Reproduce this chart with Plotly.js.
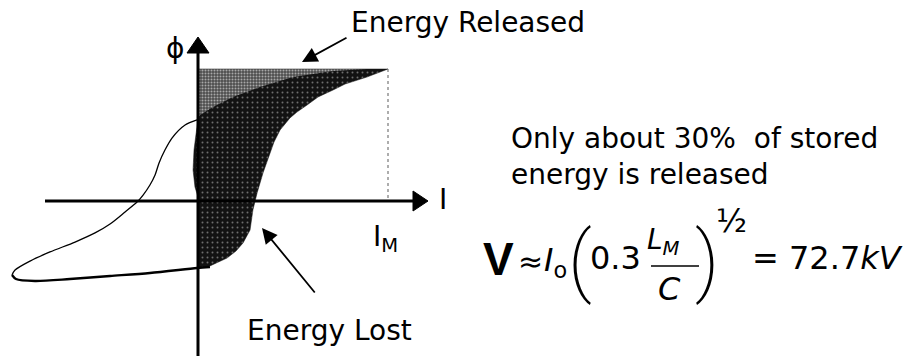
<!DOCTYPE html>
<html>
<head>
<meta charset="utf-8">
<script src="https://cdn.plot.ly/plotly-3.0.1.min.js"></script>
<style>
  html, body { margin: 0; padding: 0; background: #fff; }
  #chart { width: 909px; height: 356px; }
</style>
</head>
<body>
<div id="chart"></div>
<script>
// Flux-current (phi vs I) loop, in units where I_M = 1 and phi_max = 1.

// Outer branch of the loop: from the phi axis down to the far-left turning point
const loopUpperI   = [-0.005, -0.068, -0.137, -0.174, -0.205, -0.226, -0.253, -0.289, -0.321, -0.384, -0.463, -0.542, -0.647, -0.779, -0.884, -0.963, -0.979];
const loopUpperPhi = [ 0.614,  0.576,  0.477,  0.386,  0.288,  0.197,  0.121,  0.045, -0.008, -0.083, -0.174, -0.242, -0.311, -0.386, -0.455, -0.523, -0.561];

// Return branch: from the turning point back to the phi axis
const loopLowerI   = [-0.979, -0.958, -0.858, -0.674, -0.463, -0.253, -0.005, 0.063];
const loopLowerPhi = [-0.561, -0.591, -0.606, -0.591, -0.568, -0.545, -0.508, -0.500];

// Region lost in the core (dark)
const lostI   = [0, 1.0, 0.889, 0.774, 0.711, 0.632, 0.574, 0.521, 0.484, 0.432, 0.400, 0.379, 0.342, 0.311, 0.289, 0.274, 0.237, 0.200, 0.153, 0.063, 0, 0, -0.016, -0.026, -0.021, -0.011, 0, 0];
const lostPhi = [1.0, 1.0, 0.939, 0.886, 0.841, 0.788, 0.727, 0.674, 0.629, 0.538, 0.447, 0.364, 0.212, 0.061, -0.068, -0.220, -0.318, -0.379, -0.432, -0.492, -0.508, 0.030, 0.106, 0.235, 0.386, 0.500, 0.614, 1.0];

// Region released (lighter)
const releasedI   = [0, 0.889, 0.711, 0.500, 0.326, 0.184, 0.079, 0.011, 0, 0];
const releasedPhi = [1.0, 1.0, 0.985, 0.939, 0.864, 0.788, 0.712, 0.652, 0.629, 1.0];

// Peak operating point
const peakI = [1.0];
const peakPhi = [1.0];

// Pixel-to-axis helpers for placing the decorations
const W = 909, H = 356, OX = 198, OY = 201, SX = 190, SY = 132;
const ix = px => (px - OX) / SX;
const iy = py => (OY - py) / SY;
const X = px => px / W;
const Y = py => 1 - py / H;

const FONT = 'DejaVu Sans, Liberation Sans, Arial, sans-serif';

const traces = [
  {
    x: lostI, y: lostPhi, mode: 'lines', fill: 'toself',
    fillcolor: '#1c1c1c',
    fillpattern: { shape: '.', bgcolor: '#121212', fgcolor: '#6e6e6e', size: 5, solidity: 0.12 },
    line: { color: '#111', width: 0.5 }, hoverinfo: 'skip'
  },
  {
    x: releasedI, y: releasedPhi, mode: 'lines', fill: 'toself',
    fillcolor: '#7a7a7a',
    fillpattern: { shape: '.', bgcolor: '#4e4e4e', fgcolor: '#a8a8a8', size: 3, solidity: 0.35 },
    line: { color: '#555', width: 0 }, hoverinfo: 'skip'
  },
  {
    x: loopUpperI, y: loopUpperPhi, mode: 'lines',
    line: { color: '#000', width: 1.3, shape: 'spline', smoothing: 0.8 }, hoverinfo: 'skip'
  },
  {
    x: loopLowerI, y: loopLowerPhi, mode: 'lines',
    line: { color: '#000', width: 2.4, shape: 'spline', smoothing: 0.8 }, hoverinfo: 'skip'
  }
];

const shapes = [
  // dotted drop line from the peak to the I axis
  { type: 'line', x0: peakI[0], x1: peakI[0], y0: peakPhi[0], y1: 0,
    line: { color: '#777', width: 1.2, dash: 'dot' } },
  // I axis
  { type: 'line', x0: ix(45), x1: ix(414), y0: 0, y1: 0, line: { color: '#000', width: 3 } },
  { type: 'path', path: `M${ix(413)},${iy(191)} L${ix(428)},0 L${ix(413)},${iy(211)} Z`,
    fillcolor: '#000', line: { color: '#000', width: 1 } },
  // phi axis
  { type: 'line', x0: 0, x1: 0, y0: iy(360), y1: iy(52), line: { color: '#000', width: 3 } },
  { type: 'path', path: `M${ix(187)},${iy(53)} L0,${iy(37)} L${ix(209)},${iy(53)} Z`,
    fillcolor: '#000', line: { color: '#000', width: 1 } },
  // fraction bar
  { type: 'line', xref: 'paper', yref: 'paper', x0: X(651), x1: X(699), y0: Y(266), y1: Y(266),
    line: { color: '#000', width: 1.5 } }
];

const ann = (text, px, py, size, extra) => Object.assign({
  text, x: X(px), y: Y(py), xref: 'paper', yref: 'paper',
  xanchor: 'left', yanchor: 'middle', showarrow: false,
  font: { family: FONT, size, color: '#000' }
}, extra || {});

const THIN = 'DejaVu Sans ExtraLight, Roboto, Lato, ' + FONT;

const annotations = [
  // pointer arrows
  { x: ix(302), y: iy(62), ax: ix(348), ay: iy(37), xref: 'x', yref: 'y', axref: 'x', ayref: 'y',
    text: '', showarrow: true, arrowhead: 2, arrowsize: 1.7, arrowwidth: 1.8, arrowcolor: '#000', standoff: 0 },
  { x: ix(262), y: iy(228), ax: ix(316), ay: iy(294), xref: 'x', yref: 'y', axref: 'x', ayref: 'y',
    text: '', showarrow: true, arrowhead: 2, arrowsize: 1.7, arrowwidth: 1.8, arrowcolor: '#000', standoff: 0 },

  // labels
  ann('Energy Released', 349, 23, 28),
  ann('Energy Lost', 245, 330, 28),
  ann('ϕ', 164, 49, 28),
  ann('I', 437, 199, 28),
  ann('I<sub>M</sub>', 371, 238, 28),
  ann('Only about 30%  of stored<br>energy is released', 509, 156, 28, { align: 'left' }),

  // V ≈ I_o (0.3 L_M / C)^(1/2) = 72.7 kV
  ann('V', 481, 259, 46, { font: { family: 'Liberation Sans, Arial, sans-serif', size: 46, color: '#000', weight: 'bold' } }),
  ann('≈', 516, 261, 30),
  ann('<i>I</i><sub>o</sub>', 542, 262, 32),
  ann('(', 566, 260, 78, { font: { family: THIN, size: 78, color: '#000', weight: 200 } }),
  ann('0.3', 588, 258, 32),
  ann('<i>L</i><sub><i>M</i></sub>', 645, 241, 28),
  ann('<i>C</i>', 656, 289, 32),
  ann(')', 693, 260, 78, { font: { family: THIN, size: 78, color: '#000', weight: 200 } }),
  ann('½', 714, 221, 32),
  ann('= 72.7<i>kV</i>', 750, 258, 32)
];

const layout = {
  width: W, height: H,
  margin: { l: 0, r: 0, t: 0, b: 0 },
  paper_bgcolor: '#fff', plot_bgcolor: '#fff',
  showlegend: false,
  xaxis: { range: [ix(0), ix(W)], visible: false, fixedrange: true },
  yaxis: { range: [iy(H), iy(0)], visible: false, fixedrange: true },
  shapes, annotations
};

Plotly.newPlot('chart', traces, layout, { displayModeBar: false, staticPlot: true });
</script>
</body>
</html>
